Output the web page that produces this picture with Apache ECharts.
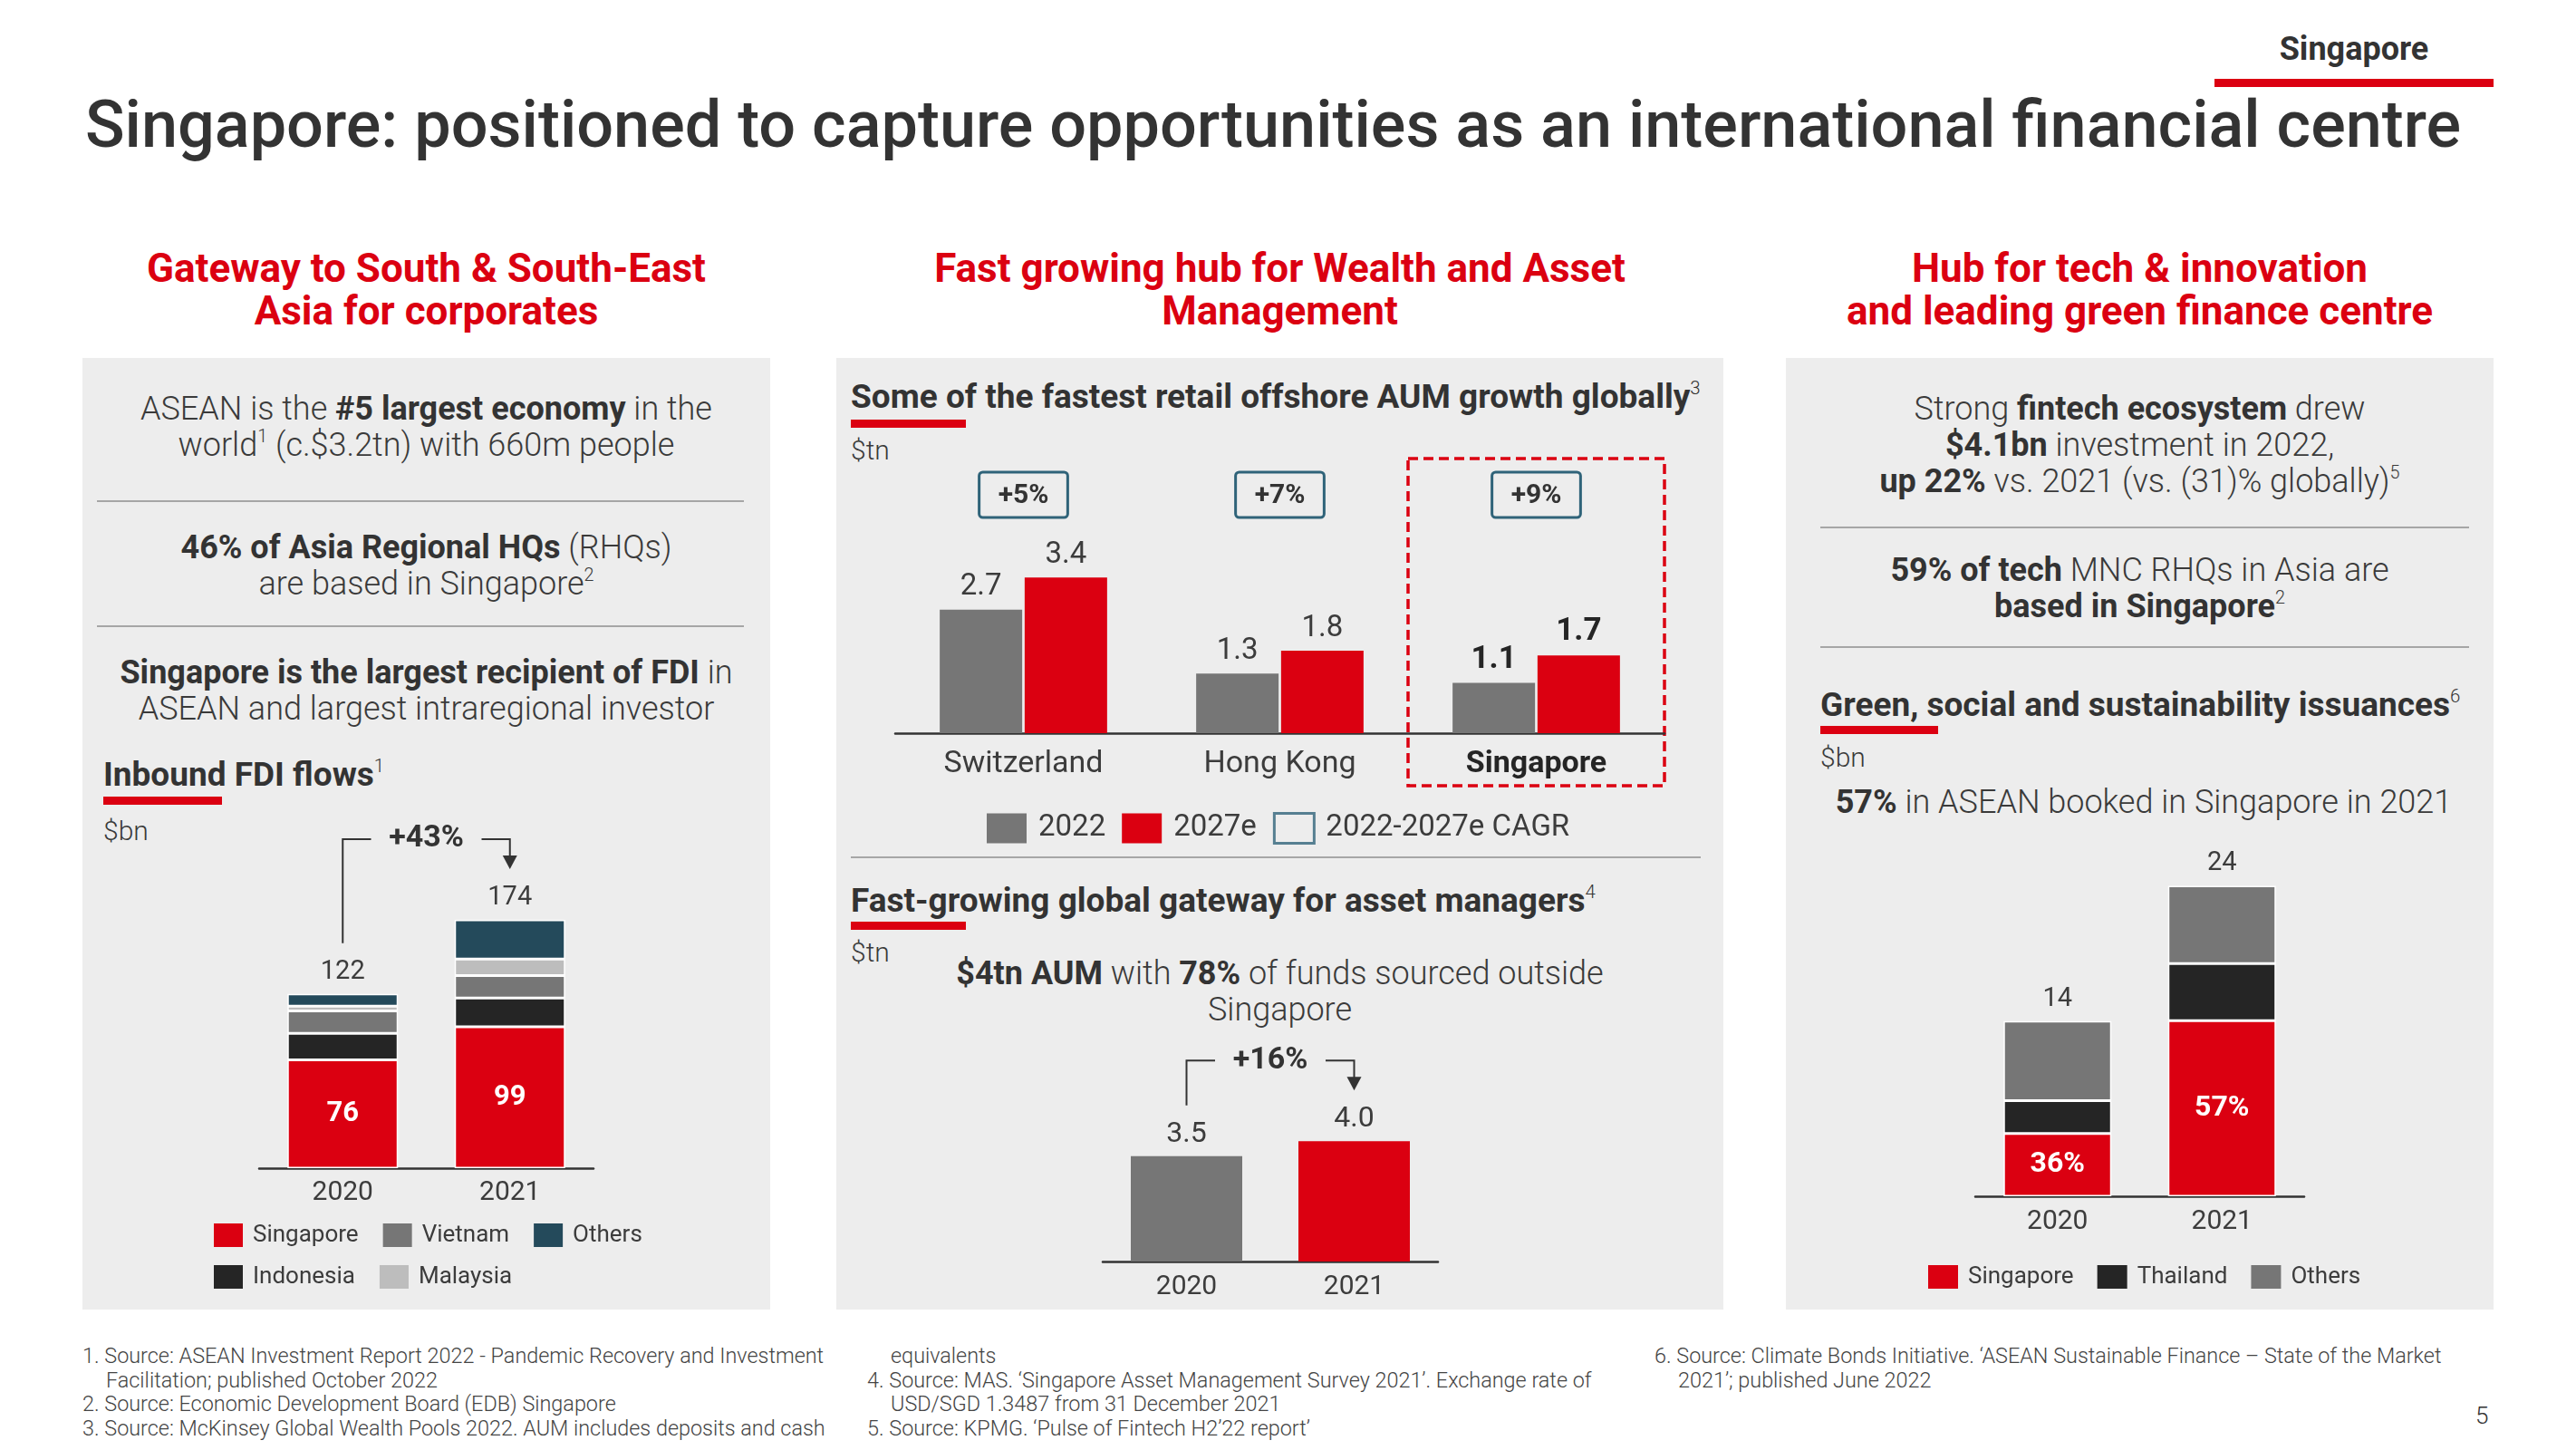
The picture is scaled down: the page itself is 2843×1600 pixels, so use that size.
<!DOCTYPE html>
<html>
<head>
<meta charset="utf-8">
<script src="https://cdn.jsdelivr.net/npm/echarts@6/dist/echarts.min.js"></script>
<style>
  html, body { margin:0; padding:0; background:#fff; }
  body { width:2843px; height:1600px; position:relative; overflow:hidden;
         font-family: Roboto, "Liberation Sans", "DejaVu Sans", sans-serif; color:#3a3a3a; }
  .abs { position:absolute; }
  .panel { position:absolute; top:395px; height:1050px; background:#EDEDED; }
  .title { left:94px; top:96px; font-size:72px; line-height:84px; font-weight:500; color:#333; white-space:nowrap; }
  .tag { left:2444px; width:308px; top:34px; line-height:40px; font-size:36px; font-weight:700; color:#333; text-align:center; }
  .tagbar { left:2444px; top:87px; width:308px; height:9px; background:#DB0011; }
  .head { position:absolute; top:273px; font-size:44px; line-height:47px; font-weight:700; color:#DB0011; text-align:center; white-space:nowrap; }
  .body { position:absolute; font-size:36px; line-height:40px; font-weight:300; color:#3a3a3a; text-align:center; white-space:nowrap; }
  .body b, .sub b { font-weight:700; color:#333; }
  .rule { position:absolute; height:2px; background:#A6A6A6; }
  .sub { position:absolute; font-size:37px; line-height:40px; font-weight:700; color:#333; white-space:nowrap; }
  .redbar { position:absolute; height:9px; background:#DB0011; }
  .unit { position:absolute; font-size:30px; line-height:36px; font-weight:300; color:#3a3a3a; }
  sup { font-size:0.55em; vertical-align:0.75em; line-height:0; font-weight:300; }
  .fn { position:absolute; font-size:23.4px; line-height:26.7px; font-weight:300; color:#444; white-space:nowrap; }
  .fn div { padding-left:26px; text-indent:-26px; }
  .fn div.cont { text-indent:0; }
  #chart { position:absolute; left:0; top:0; width:2843px; height:1600px; z-index:5; }
</style>
</head>
<body>
  <div class="abs tag">Singapore</div>
  <div class="abs tagbar"></div>
  <div class="abs title">Singapore: positioned to capture opportunities as an international financial centre</div>

  <div class="head" style="left:91px;width:759px;">Gateway to South &amp; South-East<br>Asia for corporates</div>
  <div class="head" style="left:923px;width:979px;">Fast growing hub for Wealth and Asset<br>Management</div>
  <div class="head" style="left:1971px;width:781px;">Hub for tech &amp; innovation<br>and leading green finance centre</div>

  <div class="panel" style="left:91px;width:759px;"></div>
  <div class="panel" style="left:923px;width:979px;"></div>
  <div class="panel" style="left:1971px;width:781px;"></div>

  <!-- Left panel -->
  <div class="body" style="left:91px;width:759px;top:431px;">ASEAN is the <b>#5 largest economy</b> in the<br>world<sup>1</sup> (c.$3.2tn) with 660m people</div>
  <div class="rule" style="left:107px;width:714px;top:552px;"></div>
  <div class="body" style="left:91px;width:759px;top:584px;"><b>46% of Asia Regional HQs</b> (RHQs)<br>are based in Singapore<sup>2</sup></div>
  <div class="rule" style="left:107px;width:714px;top:690px;"></div>
  <div class="body" style="left:91px;width:759px;top:722px;"><b>Singapore is the largest recipient of FDI</b> in<br>ASEAN and largest intraregional investor</div>
  <div class="sub" style="left:114px;top:835px;">Inbound FDI flows<sup>1</sup></div>
  <div class="redbar" style="left:114px;top:879px;width:131px;"></div>
  <div class="unit" style="left:114px;top:899px;">$bn</div>

  <!-- Middle panel -->
  <div class="sub" style="left:939px;top:418px;">Some of the fastest retail offshore AUM growth globally<sup>3</sup></div>
  <div class="redbar" style="left:939px;top:463px;width:127px;"></div>
  <div class="unit" style="left:939px;top:479px;">$tn</div>
  <div class="rule" style="left:939px;width:938px;top:945px;"></div>
  <div class="sub" style="left:939px;top:974px;">Fast-growing global gateway for asset managers<sup>4</sup></div>
  <div class="redbar" style="left:939px;top:1017px;width:127px;"></div>
  <div class="unit" style="left:939px;top:1033px;">$tn</div>
  <div class="body" style="left:923px;width:979px;top:1054px;"><b>$4tn AUM</b> with <b>78%</b> of funds sourced outside<br>Singapore</div>

  <!-- Right panel -->
  <div class="body" style="left:1971px;width:781px;top:431px;">Strong <b>fintech ecosystem</b> drew<br><b>$4.1bn</b> investment in 2022,<br><b>up 22%</b> vs. 2021 (vs. (31)% globally)<sup>5</sup></div>
  <div class="rule" style="left:2009px;width:716px;top:581px;"></div>
  <div class="body" style="left:1971px;width:781px;top:609px;"><b>59% of tech</b> MNC RHQs in Asia are<br><b>based in Singapore</b><sup>2</sup></div>
  <div class="rule" style="left:2009px;width:716px;top:713px;"></div>
  <div class="sub" style="left:2009px;top:758px;">Green, social and sustainability issuances<sup>6</sup></div>
  <div class="redbar" style="left:2009px;top:801px;width:130px;"></div>
  <div class="unit" style="left:2009px;top:818px;">$bn</div>
  <div class="body" style="left:1971px;width:790px;top:865px;"><b>57%</b> in ASEAN booked in Singapore in 2021</div>

  <!-- Footnotes -->
  <div class="fn" style="left:91px;top:1483px;">
    <div>1. Source: ASEAN Investment Report 2022 - Pandemic Recovery and Investment<br>Facilitation; published October 2022</div>
    <div>2. Source: Economic Development Board (EDB) Singapore</div>
    <div>3. Source: McKinsey Global Wealth Pools 2022. AUM includes deposits and cash</div>
  </div>
  <div class="fn" style="left:957px;top:1483px;">
    <div class="cont">equivalents</div>
    <div>4. Source: MAS. ‘Singapore Asset Management Survey 2021’. Exchange rate of<br>USD/SGD 1.3487 from 31 December 2021</div>
    <div>5. Source: KPMG. ‘Pulse of Fintech H2’22 report’</div>
  </div>
  <div class="fn" style="left:1826px;top:1483px;">
    <div>6. Source: Climate Bonds Initiative. ‘ASEAN Sustainable Finance – State of the Market<br>2021’; published June 2022</div>
  </div>
  <div class="abs" style="left:2732px;top:1547px;font-size:26px;line-height:30px;font-weight:300;color:#333;">5</div>

  <div id="chart"></div>

<script>
// ---------------- DATA ----------------
// Inbound FDI flows, $bn
const fdiYears      = ['2020', '2021'];
const fdiSingapore  = [75.8, 99.1];
const fdiIndonesia  = [18.6, 20.1];
const fdiVietnam    = [15.8, 15.7];
const fdiMalaysia   = [3.3, 11.6];
const fdiOthers     = [8.5, 27.5];
const fdiTotals     = [122, 174];
const fdiGrowth     = '+43%';

// Retail offshore AUM, $tn
const aumMarkets    = ['Switzerland', 'Hong Kong', 'Singapore'];
const aum2022       = [2.7, 1.3, 1.1];
const aum2027e      = [3.4, 1.8, 1.7];
const aumCagr       = ['+5%', '+7%', '+9%'];
const aumHighlight  = 'Singapore';

// Singapore asset management AUM, $tn
const amYears       = ['2020', '2021'];
const amAum         = [3.5, 4.0];
const amGrowth      = '+16%';

// Green, social and sustainability issuances, $bn
const gssYears      = ['2020', '2021'];
const gssSingapore  = [4.93, 13.8];
const gssThailand   = [2.58, 4.5];
const gssOthers     = [6.26, 6.1];
const gssTotals     = [14, 24];
const gssShare      = ['36%', '57%'];

// ---------------- STYLE ----------------
const FONT = 'Roboto, "Liberation Sans", sans-serif';
const RED = '#DB0011', DARK = '#252525', GREY = '#767676', LIGHT = '#BDBDBD', TEAL = '#244A5B', BOXTEAL = '#2F6379';
const TXT = '#3c3c3c';
const amColors = [GREY, RED];

const chart = echarts.init(document.getElementById('chart'), null, {renderer: 'canvas', width: 2843, height: 1600});

function catAxis(gridIndex, data, extra) {
  return Object.assign({
    type: 'category', gridIndex: gridIndex, data: data,
    axisLine: {show: true, lineStyle: {color: '#333', width: 2.5}},
    axisTick: {show: false},
    splitLine: {show: false},
    axisLabel: {fontSize: 30, color: TXT, fontFamily: FONT, margin: 12}
  }, extra || {});
}
function valAxis(gridIndex, max) {
  return {type: 'value', gridIndex: gridIndex, min: 0, max: max, show: false, splitLine: {show: false}};
}
const segBorder = {borderColor: '#ffffff', borderWidth: 1.5};
function stackSeg(name, stack, xi, yi, data, color, barWidth, extra) {
  return Object.assign({
    name: name, type: 'bar', stack: stack, xAxisIndex: xi, yAxisIndex: yi, data: data,
    barWidth: barWidth, itemStyle: Object.assign({color: color}, segBorder), silent: true
  }, extra || {});
}
function totalSeries(stack, xi, yi, n, totals, barWidth, fs) {
  return {
    name: stack + 'Total', type: 'bar', stack: stack, xAxisIndex: xi, yAxisIndex: yi,
    data: new Array(n).fill(0), barWidth: barWidth, silent: true,
    itemStyle: {color: 'rgba(0,0,0,0)'},
    label: {show: true, position: 'top', distance: 10, fontSize: fs, color: TXT, fontFamily: FONT,
            formatter: p => String(totals[p.dataIndex])}
  };
}
const legendBase = {orient: 'horizontal', padding: 0, icon: 'rect', selectedMode: false,
  itemStyle: {borderWidth: 0}};

const option = {
  animation: false,
  grid: [
    {left: 286,  width: 369, top: 974,  height: 315},
    {left: 988,  width: 849, top: 607,  height: 202},
    {left: 1217, width: 370, top: 1226, height: 166},
    {left: 2180, width: 363, top: 899,  height: 421}
  ],
  xAxis: [
    catAxis(0, fdiYears),
    catAxis(1, aumMarkets, {axisLabel: {fontSize: 34, color: TXT, fontFamily: FONT, margin: 17,
      formatter: v => v === aumHighlight ? '{b|' + v + '}' : v,
      rich: {b: {fontSize: 34, fontWeight: 'bold', color: '#252525', fontFamily: FONT}}}}),
    catAxis(1, aumMarkets, {position: 'top', axisLine: {show: false},
      axisLabel: {formatter: (v, i) => aumCagr[i], fontSize: 30, fontWeight: 'bold', color: '#333', fontFamily: FONT,
        borderColor: BOXTEAL, borderWidth: 3, borderRadius: 4, padding: [11, 21, 9, 21], margin: 36}}),
    catAxis(2, amYears, {axisLabel: {fontSize: 30, color: TXT, fontFamily: FONT, margin: 13}}),
    catAxis(3, gssYears, {axisLabel: {fontSize: 30, color: TXT, fontFamily: FONT, margin: 13}})
  ],
  yAxis: [valAxis(0, 200), valAxis(1, 4), valAxis(2, 5), valAxis(3, 30)],
  legend: [
    Object.assign({}, legendBase, {left: 236, top: 1350, itemWidth: 32, itemHeight: 26, itemGap: 27,
      textStyle: {fontFamily: FONT, fontSize: 26, color: TXT, padding: [0, 0, 0, 6]},
      data: [{name: 'Singapore', itemStyle: {color: RED}}, {name: 'Vietnam'}, {name: 'Others', itemStyle: {color: TEAL}}]}),
    Object.assign({}, legendBase, {left: 236, top: 1396, itemWidth: 32, itemHeight: 26, itemGap: 27,
      textStyle: {fontFamily: FONT, fontSize: 26, color: TXT, padding: [0, 0, 0, 6]},
      data: [{name: 'Indonesia'}, {name: 'Malaysia'}]}),
    Object.assign({}, legendBase, {left: 1089, top: 896, itemWidth: 44, itemHeight: 33, itemGap: 18,
      textStyle: {fontFamily: FONT, fontSize: 33, color: TXT, padding: [0, 0, 0, 8]},
      data: [{name: '2022'}, {name: '2027e'},
             {name: '2022-2027e CAGR', itemStyle: {color: 'rgba(0,0,0,0)', borderColor: BOXTEAL, borderWidth: 3}}]}),
    Object.assign({}, legendBase, {left: 2128, top: 1396, itemWidth: 33, itemHeight: 26, itemGap: 26,
      textStyle: {fontFamily: FONT, fontSize: 26, color: TXT, padding: [0, 0, 0, 6]},
      data: [{name: 'Singapore', itemStyle: {color: RED}}, {name: 'Thailand'}, {name: 'Others', itemStyle: {color: GREY}}]})
  ],
  series: [
    // FDI stacked bars
    stackSeg('Singapore', 'fdi', 0, 0, fdiSingapore, RED, 122, {
      label: {show: true, position: 'inside', fontSize: 31, fontWeight: 'bold', color: '#fff', fontFamily: FONT,
              formatter: p => String(Math.round(p.value))}}),
    stackSeg('Indonesia', 'fdi', 0, 0, fdiIndonesia, DARK, 122),
    stackSeg('Vietnam',   'fdi', 0, 0, fdiVietnam,   GREY, 122),
    stackSeg('Malaysia',  'fdi', 0, 0, fdiMalaysia,  LIGHT, 122),
    stackSeg('Others',    'fdi', 0, 0, fdiOthers,    TEAL, 122),
    totalSeries('fdi', 0, 0, fdiYears.length, fdiTotals, 122, 29),

    // AUM grouped bars
    {name: '2022', type: 'bar', xAxisIndex: 1, yAxisIndex: 1, data: aum2022, barWidth: 91, barGap: '3%', silent: true,
     itemStyle: {color: GREY},
     label: {show: true, position: 'top', distance: 8, fontSize: 33, color: TXT, fontFamily: FONT,
       formatter: p => aumMarkets[p.dataIndex] === aumHighlight ? '{b|' + p.value.toFixed(1) + '}' : p.value.toFixed(1),
       rich: {b: {fontSize: 35, fontWeight: 'bold', color: '#252525', fontFamily: FONT}}}},
    {name: '2027e', type: 'bar', xAxisIndex: 1, yAxisIndex: 1, data: aum2027e, barWidth: 91, barGap: '3%', silent: true,
     itemStyle: {color: RED},
     label: {show: true, position: 'top', distance: 8, fontSize: 33, color: TXT, fontFamily: FONT,
       formatter: p => aumMarkets[p.dataIndex] === aumHighlight ? '{b|' + p.value.toFixed(1) + '}' : p.value.toFixed(1),
       rich: {b: {fontSize: 35, fontWeight: 'bold', color: '#252525', fontFamily: FONT}}}},
    {name: '2022-2027e CAGR', type: 'scatter', xAxisIndex: 1, yAxisIndex: 1, data: [], itemStyle: {color: BOXTEAL}},

    // Asset manager AUM
    {name: 'AUM', type: 'bar', xAxisIndex: 3, yAxisIndex: 2, data: amAum, barWidth: 123, silent: true,
     itemStyle: {color: p => amColors[p.dataIndex]},
     label: {show: true, position: 'top', distance: 8, fontSize: 32, color: TXT, fontFamily: FONT,
             formatter: p => p.value.toFixed(1)}},

    // Green, social & sustainability issuances
    stackSeg('Singapore', 'gss', 4, 3, gssSingapore, RED, 119, {
      label: {show: true, position: 'inside', fontSize: 32, fontWeight: 'bold', color: '#fff', fontFamily: FONT,
              formatter: p => gssShare[p.dataIndex]}}),
    stackSeg('Thailand', 'gss', 4, 3, gssThailand, DARK, 119),
    stackSeg('Others',   'gss', 4, 3, gssOthers,   GREY, 119),
    totalSeries('gss', 4, 3, gssYears.length, gssTotals, 119, 29)
  ]
};
chart.setOption(option);

// ---------------- Annotations placed from the axes ----------------
function px(xi, yi, catIndex, val) {
  return chart.convertToPixel({xAxisIndex: xi, yAxisIndex: yi}, [catIndex, val]);
}
function growthBracket(xi, yi, v0, v1, text) {
  const a = px(xi, yi, 0, v0), b = px(xi, yi, 1, v1);
  const yStart = a[1] - 56, yBr = b[1] - 89, yTip = b[1] - 56;
  const mid = (a[0] + b[0]) / 2;
  const ln = {stroke: '#333', lineWidth: 2, fill: null};
  return [
    {type: 'polyline', silent: true, shape: {points: [[a[0], yStart], [a[0], yBr], [mid - 61, yBr]]}, style: ln},
    {type: 'polyline', silent: true, shape: {points: [[mid + 61, yBr], [b[0], yBr], [b[0], yTip - 12]]}, style: ln},
    {type: 'polygon', silent: true, shape: {points: [[b[0] - 8, yTip - 15], [b[0] + 8, yTip - 15], [b[0], yTip]]}, style: {fill: '#333'}},
    {type: 'text', silent: true, x: mid, y: yBr,
     style: {text: text, fontSize: 34, fontWeight: 'bold', fontFamily: FONT, fill: '#333', align: 'center', verticalAlign: 'middle'}}
  ];
}
const sumArr = arrs => arrs[0].map((_, i) => arrs.reduce((s, a) => s + a[i], 0));
const fdiStackTop = sumArr([fdiSingapore, fdiIndonesia, fdiVietnam, fdiMalaysia, fdiOthers]);

const hiIdx = aumMarkets.indexOf(aumHighlight);
const cHi = px(1, 1, hiIdx, 0), cPrev = px(1, 1, hiIdx - 1, 0);
const band = cHi[0] - cPrev[0];

const graphics = []
  .concat(growthBracket(0, 0, fdiStackTop[0], fdiStackTop[1], fdiGrowth))
  .concat(growthBracket(3, 2, amAum[0], amAum[1], amGrowth))
  .concat([{type: 'rect', silent: true,
    shape: {x: cHi[0] - band / 2, y: cHi[1] - 303, width: band, height: 361},
    style: {fill: null, stroke: RED, lineWidth: 3.5, lineDash: [11, 6]}}]);
chart.setOption({graphic: graphics});
</script>
</body>
</html>
